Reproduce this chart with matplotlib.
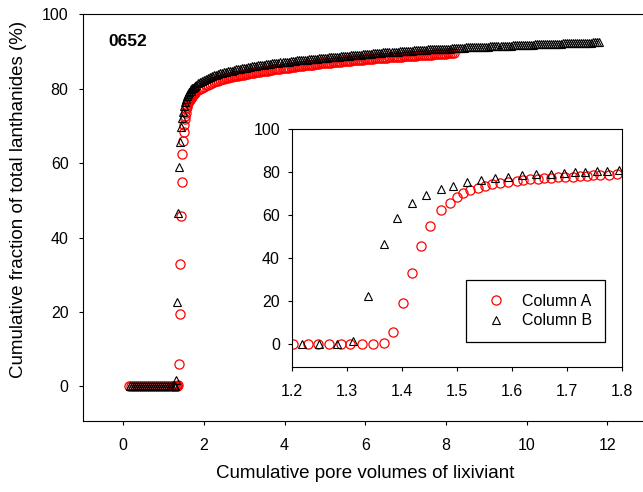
import matplotlib
matplotlib.use("Agg")
import matplotlib.pyplot as plt

plt.rcParams['font.family'] = ['Liberation Sans', 'DejaVu Sans']

# Column A: flat start, the breakthrough, then the tail
a_pv_flat = [0.15, 0.20, 0.25, 0.30, 0.35, 0.40, 0.45, 0.50, 0.55, 0.60, 0.65,
             0.70, 0.75, 0.80, 0.85, 0.90, 0.95, 1.00, 1.05, 1.10, 1.15]
a_frac_flat = [0.0] * 21
a_pv_front = [1.203, 1.229, 1.248, 1.268, 1.290, 1.306, 1.327, 1.347, 1.368,
              1.385, 1.402, 1.418, 1.435, 1.452, 1.472, 1.487, 1.500, 1.512,
              1.525, 1.539, 1.552, 1.565, 1.579, 1.594, 1.609, 1.621, 1.633,
              1.647, 1.659, 1.671, 1.685, 1.697, 1.711, 1.724, 1.736, 1.748,
              1.761, 1.776, 1.791]
a_frac_front = [0.0, 0.0, 0.0, 0.0, 0.0, 0.0, 0.0, 0.0, 0.5, 5.9, 19.4, 33.0,
                45.7, 55.0, 62.5, 65.9, 68.3, 70.2, 71.8, 72.7, 73.6, 74.5,
                75.1, 75.6, 76.1, 76.4, 76.7, 77.0, 77.3, 77.5, 77.6, 77.8,
                78.0, 78.3, 78.4, 78.6, 78.7, 78.9, 79.2]
a_pv_tail = [1.85, 1.90, 1.95, 2.00, 2.05, 2.10, 2.15, 2.20, 2.25, 2.30,
             2.35, 2.40, 2.45, 2.50, 2.55, 2.60, 2.65, 2.70, 2.75, 2.80,
             2.85, 2.90, 2.95, 3.00, 3.05, 3.10, 3.15, 3.20, 3.25, 3.30,
             3.35, 3.40, 3.45, 3.50, 3.55, 3.60, 3.65, 3.70, 3.75, 3.80,
             3.85, 3.90, 3.95, 4.00, 4.05, 4.10, 4.15, 4.20, 4.25, 4.30,
             4.35, 4.40, 4.45, 4.50, 4.55, 4.60, 4.65, 4.70, 4.75, 4.80,
             4.85, 4.90, 4.95, 5.00, 5.05, 5.10, 5.15, 5.20, 5.25, 5.30,
             5.35, 5.40, 5.45, 5.50, 5.55, 5.60, 5.65, 5.70, 5.75, 5.80,
             5.85, 5.90, 5.95, 6.00, 6.05, 6.10, 6.15, 6.20, 6.25, 6.30,
             6.35, 6.40, 6.45, 6.50, 6.55, 6.60, 6.65, 6.70, 6.75, 6.80,
             6.85, 6.90, 6.95, 7.00, 7.05, 7.10, 7.15, 7.20, 7.25, 7.30,
             7.35, 7.40, 7.45, 7.50, 7.55, 7.60, 7.65, 7.70, 7.75, 7.80,
             7.85, 7.90, 7.95, 8.00, 8.05, 8.10, 8.15, 8.20]
a_frac_tail = [79.7, 80.0, 80.3, 80.6, 80.9, 81.1, 81.4, 81.6, 81.8, 82.0,
               82.2, 82.4, 82.6, 82.7, 82.9, 83.0, 83.1, 83.2, 83.3, 83.4,
               83.5, 83.6, 83.7, 83.8, 83.9, 84.0, 84.1, 84.2, 84.3, 84.4,
               84.5, 84.6, 84.7, 84.8, 84.85, 84.9, 85.0, 85.1, 85.2, 85.3,
               85.35, 85.4, 85.5, 85.6, 85.65, 85.7, 85.8, 85.9, 85.95, 86.0,
               86.05, 86.1, 86.2, 86.3, 86.35, 86.4, 86.45, 86.5, 86.55, 86.6,
               86.7, 86.8, 86.85, 86.9, 86.95, 87.0, 87.05, 87.1, 87.15, 87.2,
               87.25, 87.3, 87.35, 87.4, 87.45, 87.5, 87.55, 87.6, 87.65, 87.7,
               87.75, 87.8, 87.85, 87.9, 87.95, 88.0, 88.05, 88.1, 88.15, 88.2,
               88.2, 88.25, 88.3, 88.3, 88.35, 88.4, 88.45, 88.5, 88.55, 88.6,
               88.6, 88.65, 88.7, 88.7, 88.75, 88.8, 88.85, 88.9, 88.9, 88.95,
               89.0, 89.0, 89.05, 89.1, 89.15, 89.2, 89.2, 89.25, 89.3, 89.3,
               89.35, 89.4, 89.4, 89.45, 89.5, 89.5, 89.55, 89.6]

# Column B
b_pv_flat = [0.17, 0.22, 0.27, 0.32, 0.37, 0.42, 0.47, 0.52, 0.57, 0.62, 0.67,
             0.72, 0.77, 0.82, 0.87, 0.92, 0.97, 1.02, 1.07, 1.12, 1.17]
b_frac_flat = [0.0] * 21
b_pv_front = [1.218, 1.250, 1.283, 1.312, 1.339, 1.368, 1.392, 1.419, 1.444,
              1.471, 1.493, 1.519, 1.545, 1.569, 1.594, 1.619, 1.645, 1.671,
              1.695, 1.715, 1.733, 1.755, 1.773, 1.795]
b_frac_front = [0.0, 0.0, 0.0, 1.7, 22.6, 46.5, 58.9, 65.6, 69.6, 72.1, 73.8,
                75.3, 76.4, 77.3, 78.0, 78.6, 79.1, 79.4, 79.8, 80.1, 80.3,
                80.6, 80.8, 81.1]
b_pv_tail = [1.85, 1.90, 1.95, 2.00, 2.05, 2.10, 2.15, 2.20, 2.25, 2.30,
             2.35, 2.40, 2.45, 2.50, 2.55, 2.60, 2.65, 2.70, 2.75, 2.80,
             2.85, 2.90, 2.95, 3.00, 3.05, 3.10, 3.15, 3.20, 3.25, 3.30,
             3.35, 3.40, 3.45, 3.50, 3.55, 3.60, 3.65, 3.70, 3.75, 3.80,
             3.85, 3.90, 3.95, 4.00, 4.05, 4.10, 4.15, 4.20, 4.25, 4.30,
             4.35, 4.40, 4.45, 4.50, 4.55, 4.60, 4.65, 4.70, 4.75, 4.80,
             4.85, 4.90, 4.95, 5.00, 5.05, 5.10, 5.15, 5.20, 5.25, 5.30,
             5.35, 5.40, 5.45, 5.50, 5.55, 5.60, 5.65, 5.70, 5.75, 5.80,
             5.85, 5.90, 5.95, 6.00, 6.05, 6.10, 6.15, 6.20, 6.25, 6.30,
             6.35, 6.40, 6.45, 6.50, 6.55, 6.60, 6.65, 6.70, 6.75, 6.80,
             6.85, 6.90, 6.95, 7.00, 7.05, 7.10, 7.15, 7.20, 7.25, 7.30,
             7.35, 7.40, 7.45, 7.50, 7.55, 7.60, 7.65, 7.70, 7.75, 7.80,
             7.85, 7.90, 7.95, 8.00, 8.05, 8.10, 8.15, 8.20, 8.25, 8.30,
             8.35, 8.40, 8.45, 8.50, 8.55, 8.60, 8.65, 8.70, 8.75, 8.80,
             8.85, 8.90, 8.95, 9.00, 9.05, 9.10, 9.15, 9.20, 9.25, 9.30,
             9.35, 9.40, 9.45, 9.50, 9.55, 9.60, 9.65, 9.70, 9.75, 9.80,
             9.85, 9.90, 9.95, 10.00, 10.05, 10.10, 10.15, 10.20, 10.25, 10.30,
             10.35, 10.40, 10.45, 10.50, 10.55, 10.60, 10.65, 10.70, 10.75, 10.80,
             10.85, 10.90, 10.95, 11.00, 11.05, 11.10, 11.15, 11.20, 11.25, 11.30,
             11.35, 11.40, 11.45, 11.50, 11.55, 11.60, 11.65, 11.70, 11.75, 11.80]
b_frac_tail = [81.5, 81.8, 82.1, 82.4, 82.65, 82.9, 83.15, 83.4, 83.6, 83.8,
               83.95, 84.1, 84.25, 84.4, 84.55, 84.7, 84.8, 84.9, 85.05, 85.2,
               85.3, 85.4, 85.5, 85.6, 85.7, 85.8, 85.9, 86.0, 86.1, 86.2,
               86.25, 86.3, 86.4, 86.5, 86.55, 86.6, 86.7, 86.8, 86.85, 86.9,
               87.0, 87.1, 87.15, 87.2, 87.25, 87.3, 87.35, 87.4, 87.5, 87.6,
               87.65, 87.7, 87.75, 87.8, 87.85, 87.9, 87.95, 88.0, 88.05, 88.1,
               88.15, 88.2, 88.25, 88.3, 88.35, 88.4, 88.45, 88.5, 88.55, 88.6,
               88.65, 88.7, 88.75, 88.8, 88.85, 88.9, 88.95, 89.0, 89.05, 89.1,
               89.15, 89.2, 89.25, 89.3, 89.35, 89.4, 89.45, 89.5, 89.55, 89.6,
               89.65, 89.7, 89.75, 89.8, 89.85, 89.9, 89.9, 89.9, 89.95, 90.0,
               90.05, 90.1, 90.15, 90.2, 90.2, 90.2, 90.25, 90.3, 90.35, 90.4,
               90.4, 90.4, 90.45, 90.5, 90.55, 90.6, 90.6, 90.6, 90.65, 90.7,
               90.7, 90.7, 90.75, 90.8, 90.8, 90.8, 90.85, 90.9, 90.95, 91.0,
               91.0, 91.0, 91.05, 91.1, 91.1, 91.1, 91.15, 91.2, 91.2, 91.2,
               91.25, 91.3, 91.3, 91.3, 91.35, 91.4, 91.4, 91.4, 91.45, 91.5,
               91.5, 91.5, 91.55, 91.6, 91.6, 91.6, 91.65, 91.7, 91.7, 91.7,
               91.75, 91.8, 91.8, 91.8, 91.8, 91.8, 91.85, 91.9, 91.9, 91.9,
               91.95, 92.0, 92.0, 92.0, 92.0, 92.0, 92.05, 92.1, 92.1, 92.1,
               92.15, 92.2, 92.2, 92.2, 92.2, 92.2, 92.25, 92.3, 92.3, 92.3,
               92.35, 92.4, 92.4, 92.4, 92.4, 92.4, 92.45, 92.5, 92.5, 92.5]

a_pv = a_pv_flat + a_pv_front + a_pv_tail
a_frac = a_frac_flat + a_frac_front + a_frac_tail
b_pv = b_pv_flat + b_pv_front + b_pv_tail
b_frac = b_frac_flat + b_frac_front + b_frac_tail

main_xticks = [0, 2, 4, 6, 8, 10, 12]
main_yticks = [0, 20, 40, 60, 80, 100]
inset_xticks = [1.2, 1.3, 1.4, 1.5, 1.6, 1.7, 1.8]
inset_yticks = [0, 20, 40, 60, 80, 100]

red = '#ff0000'
circ = dict(marker='o', ls='none', ms=6.6, mfc='none', mec=red, mew=0.9)
tri = dict(marker='^', ls='none', ms=5.8, mfc='none', mec='black', mew=0.8)

fig = plt.figure(figsize=(6.43, 4.92), dpi=100)

ax = fig.add_axes([0.1286, 0.1443, 1.0 - 0.1286, 0.9709 - 0.1443])
ax.plot(a_pv, a_frac, **circ)
ax.plot(b_pv, b_frac, **tri)
ax.set_xlim(-1, 12.88)
ax.set_ylim(-9.3, 100)
ax.set_xticks(main_xticks)
ax.set_yticks(main_yticks)
ax.spines['right'].set_visible(False)
ax.tick_params(direction='out', length=3.2, width=0.8, labelsize=11.5)
ax.tick_params(axis='x', pad=9)
ax.tick_params(axis='y', pad=7)
ax.set_xlabel('Cumulative pore volumes of lixiviant', fontsize=13.5,
              labelpad=9)
ax.set_ylabel('Cumulative fraction of total lanthanides (%)', fontsize=13.5,
              labelpad=11)
ax.xaxis.label.set_x(0.505)
ax.yaxis.label.set_y(0.546)
ax.text(0.045, 0.932, '0652', transform=ax.transAxes, fontsize=12.5,
        fontweight='bold', va='center', ha='left')

ins = fig.add_axes([0.4537, 0.2535, 0.9669 - 0.4537, 0.7372 - 0.2535])
ins.plot(a_pv, a_frac, label='Column A', **circ)
ins.plot(b_pv, b_frac, label='Column B', **tri)
ins.set_xlim(1.2, 1.8)
ins.set_ylim(-10.7, 100)
ins.set_xticks(inset_xticks)
ins.set_xticklabels(['1.2', '1.3', '1.4', '1.5', '1.6', '1.7', '1.8'])
ins.set_yticks(inset_yticks)
ins.tick_params(direction='out', length=3, width=0.8, labelsize=11.5)
ins.tick_params(axis='x', pad=9)
ins.tick_params(axis='y', pad=5.5)

leg = ins.legend(loc='upper left', bbox_to_anchor=(0.7243, 0.4309),
                 bbox_transform=fig.transFigure, fancybox=False,
                 edgecolor='black', framealpha=1, fontsize=11.5,
                 borderpad=0.85, handletextpad=0.55, labelspacing=0.3,
                 borderaxespad=0, handlelength=2.1)
leg.get_frame().set_linewidth(0.9)

fig.savefig('out.png', dpi=100)
